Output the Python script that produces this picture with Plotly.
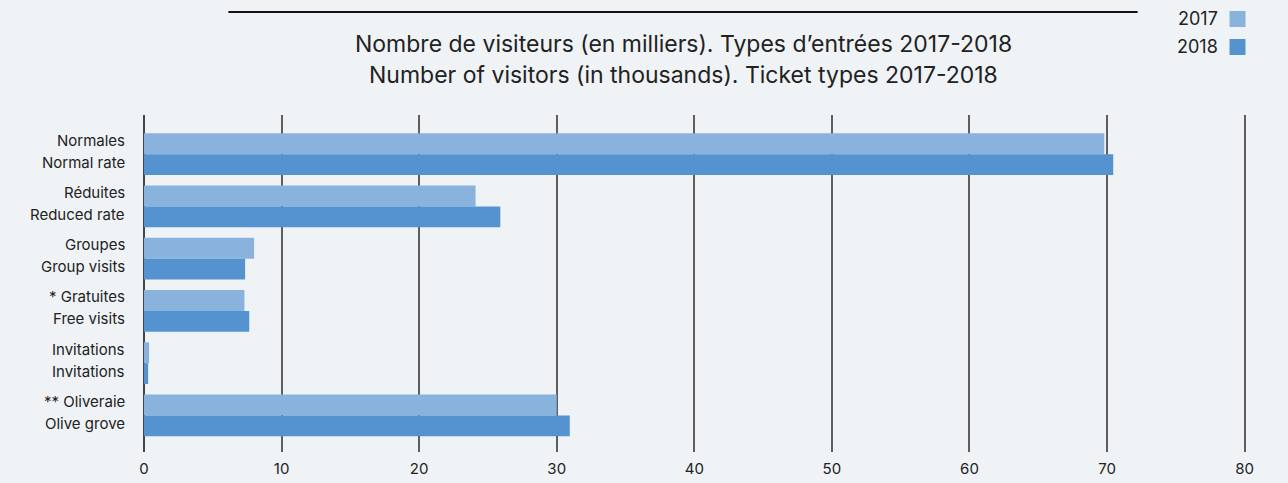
import plotly.graph_objects as go

# Ticket types (French / English) and visitor counts in thousands
labels_fr = ["Normales", "Réduites", "Groupes", "* Gratuites", "Invitations", "** Oliveraie"]
labels_en = ["Normal rate", "Reduced rate", "Group visits", "Free visits", "Invitations", "Olive grove"]
visitors_2017 = [69.8, 24.1, 8.0, 7.3, 0.37, 30.0]
visitors_2018 = [70.45, 25.9, 7.35, 7.65, 0.3, 30.95]
x_ticks = [0, 10, 20, 30, 40, 50, 60, 70, 80]

title_fr = "Nombre de visiteurs (en milliers). Types d’entrées 2017-2018"
title_en = "Number of visitors (in thousands). Ticket types 2017-2018"

BG = "#EFF3F6"
C2017 = "#89B2DC"
C2018 = "#5593D0"
FONT = "Inter"
TXT = "#222222"

# plot area in pixels
L, R, T, B = 143.5, 1246.5, 115, 452
W_PX, H_PX = R - L, B - T


def px(xp):
    return (xp - L) / W_PX


def py(yp):
    return 1 + (T - yp) / H_PX


cats = list(range(len(labels_fr)))

fig = go.Figure()
fig.add_trace(go.Bar(y=cats, x=visitors_2017, orientation="h", name="2017",
                     marker=dict(color=C2017, line=dict(width=0))))
fig.add_trace(go.Bar(y=cats, x=visitors_2018, orientation="h", name="2018",
                     marker=dict(color=C2018, line=dict(width=0))))

annotations = []
# Two-line category labels, each line aligned with its year's bar
for i, (fr, en) in enumerate(zip(labels_fr, labels_en)):
    annotations.append(dict(text=fr, xref="paper", yref="y", x=px(126), y=i,
                            xanchor="right", yanchor="middle", yshift=14,
                            showarrow=False, font=dict(family=FONT, size=15, color=TXT)))
    annotations.append(dict(text=en, xref="paper", yref="y", x=px(126), y=i,
                            xanchor="right", yanchor="middle", yshift=-8,
                            showarrow=False, font=dict(family=FONT, size=15, color=TXT)))

# Two-line title
for txt, yc in [(title_fr, 44), (title_en, 75)]:
    annotations.append(dict(text=txt, xref="paper", yref="paper", x=px(683), y=py(yc),
                            xanchor="center", yanchor="middle", showarrow=False,
                            font=dict(family=FONT, size=23, color=TXT)))

# Legend: year label to the left of a colour square
shapes = []
for yr, col, yc in [("2017", C2017, 19), ("2018", C2018, 47)]:
    annotations.append(dict(text=yr, xref="paper", yref="paper", x=px(1220), y=py(yc),
                            xanchor="right", yanchor="middle", showarrow=False,
                            font=dict(family=FONT, size=18, color=TXT)))
    shapes.append(dict(type="rect", xref="paper", yref="paper",
                       x0=px(1230), x1=px(1246), y0=py(yc - 8), y1=py(yc + 8),
                       fillcolor=col, line=dict(width=0)))

# Rule above the title
shapes.append(dict(type="line", xref="paper", yref="paper",
                   x0=px(228), x1=px(1138), y0=py(12), y1=py(12),
                   line=dict(color="#111111", width=2)))

fig.update_layout(
    width=1288, height=483,
    paper_bgcolor=BG, plot_bgcolor=BG,
    margin=dict(l=L, r=1288 - R, t=T, b=483 - B, autoexpand=False),
    barmode="group", bargap=0.2, bargroupgap=0,
    showlegend=False,
    annotations=annotations, shapes=shapes,
    xaxis=dict(range=[0, 80.1], tickvals=x_ticks, showgrid=True, gridcolor="#5E5E5E",
               gridwidth=1.5, zeroline=True, zerolinecolor="#444444", zerolinewidth=1.5,
               showline=False, ticks="", ticklabelstandoff=6, automargin=False,
               tickfont=dict(family=FONT, size=15, color=TXT)),
    yaxis=dict(range=[5.7, -0.75], showticklabels=False, showgrid=False,
               zeroline=False, showline=False, ticks="", automargin=False),
)

fig.write_html("out.html")
